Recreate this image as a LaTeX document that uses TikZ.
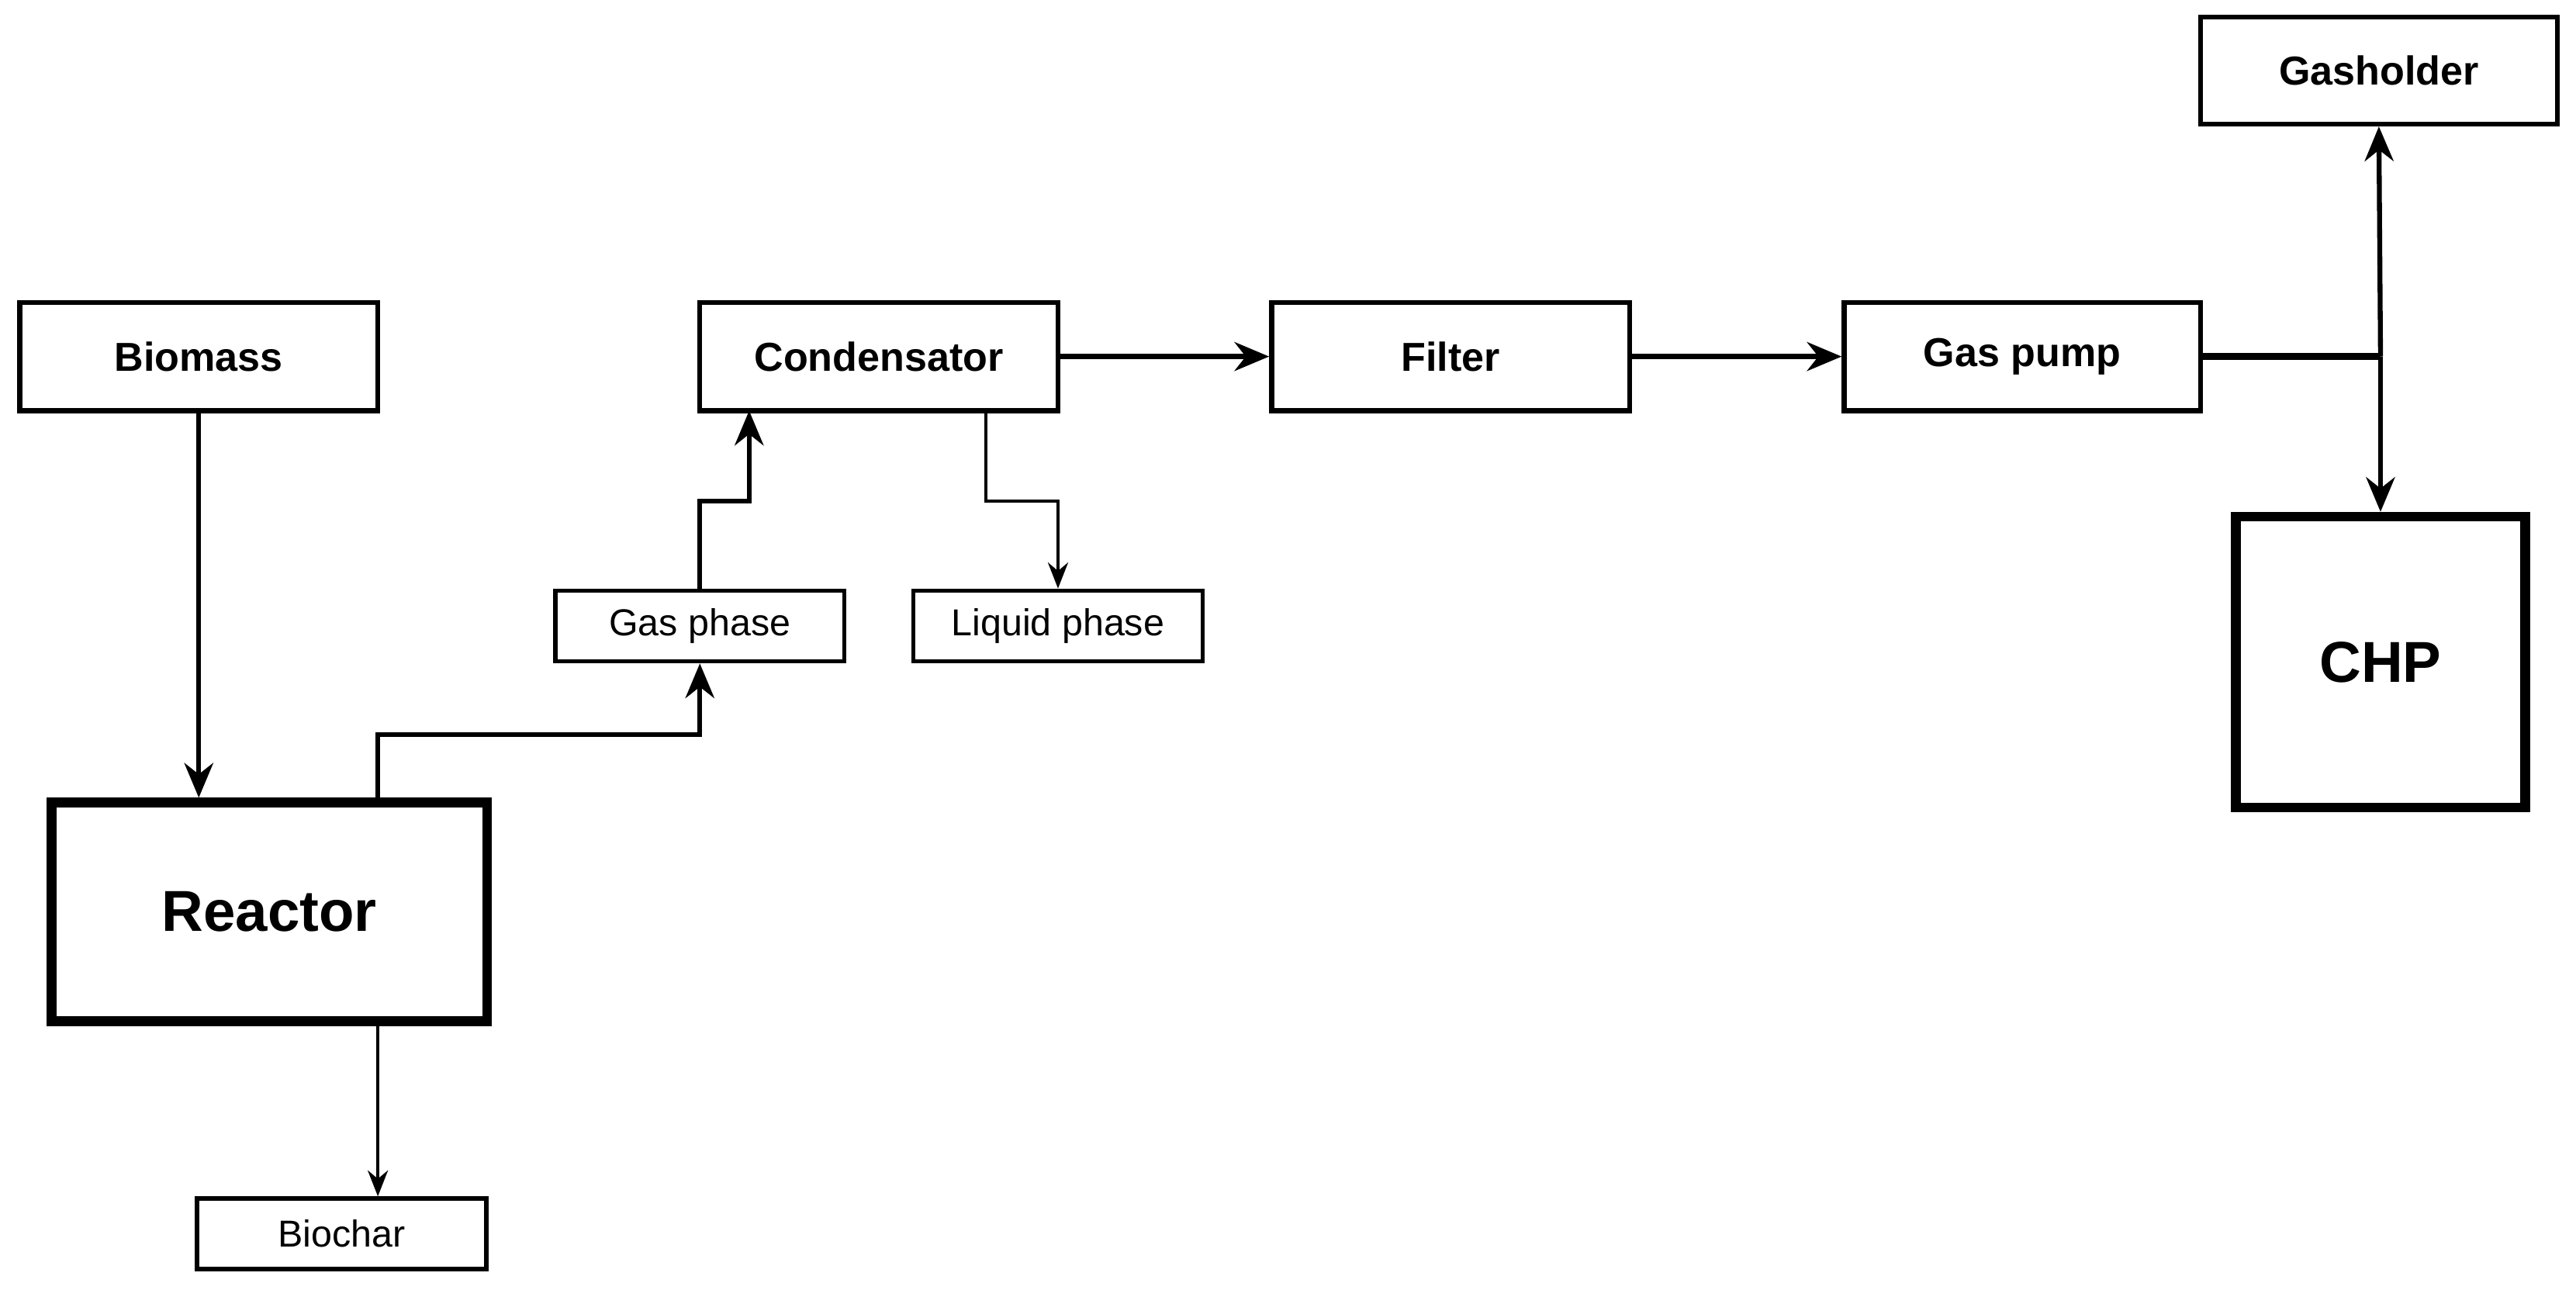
\documentclass[tikz,border=0pt]{standalone}
\usepackage{fontspec}
\setmainfont{Liberation Sans}
\usetikzlibrary{arrows.meta}
\begin{document}
\begin{tikzpicture}[x=0.02cm,y=-0.02cm,
 box/.style={draw,line width=1.7pt,inner sep=0pt,font=\fontsize{14}{16}\selectfont\bfseries},
 sbox/.style={draw,line width=1.5pt,inner sep=0pt,font=\fontsize{13}{15}\selectfont},
 big/.style={draw,line width=3.4pt,inner sep=0pt,font=\fontsize{20}{24}\selectfont\bfseries},
 arr/.style={line width=1.7pt,-{Stealth[length=12pt,width=10pt]}},
 tarr/.style={line width=1.1pt,-{Stealth[length=9pt,width=7pt]}}]
\useasboundingbox (0,0) rectangle (1568,785);
\node[box,minimum width=218*0.02cm,minimum height=66*0.02cm] (bio) at (121,217) {Biomass};
\node[box,minimum width=218*0.02cm,minimum height=66*0.02cm] (con) at (535,217) {Condensator};
\node[box,minimum width=218*0.02cm,minimum height=66*0.02cm] (fil) at (883,217) {Filter};
\node[box,minimum width=217*0.02cm,minimum height=66*0.02cm] (pump) at (1231,217) {Gas pump};
\node[box,minimum width=217*0.02cm,minimum height=65*0.02cm] (gh) at (1448,43) {Gasholder};
\node[big,minimum width=176*0.02cm,minimum height=177*0.02cm] (chp) at (1449,403) {CHP};
\node[sbox,minimum width=176*0.02cm,minimum height=43*0.02cm] (gas) at (426,381) {Gas phase};
\node[sbox,minimum width=176*0.02cm,minimum height=43*0.02cm] (liq) at (644,381) {Liquid phase};
\node[big,minimum width=265*0.02cm,minimum height=133*0.02cm] (rea) at (164,555) {Reactor};
\node[sbox,minimum width=176*0.02cm,minimum height=43*0.02cm] (bc) at (208,751) {Biochar};
\coordinate (j) at (1449,217);
\draw[arr] (bio.south) -- (bio.south |- rea.north);
\draw[arr] (rea.north -| 230,0) |- (330,447) -| (gas.south);
\draw[arr] (gas.north) |- (456,305) -- (456,250);
\draw[tarr] (600,250) |- (644,305) -- (liq.north);
\draw[arr] (con.east) -- (fil.west);
\draw[arr] (fil.east) -- (pump.west);
\draw[line width=2.4pt] (pump.east) -- (j);
\draw[arr] (j) -- (gh.south);
\draw[arr] (j) -- (chp.north);
\draw[tarr] (230,622) -- (bc.north -| 230,0);
\end{tikzpicture}
\end{document}
